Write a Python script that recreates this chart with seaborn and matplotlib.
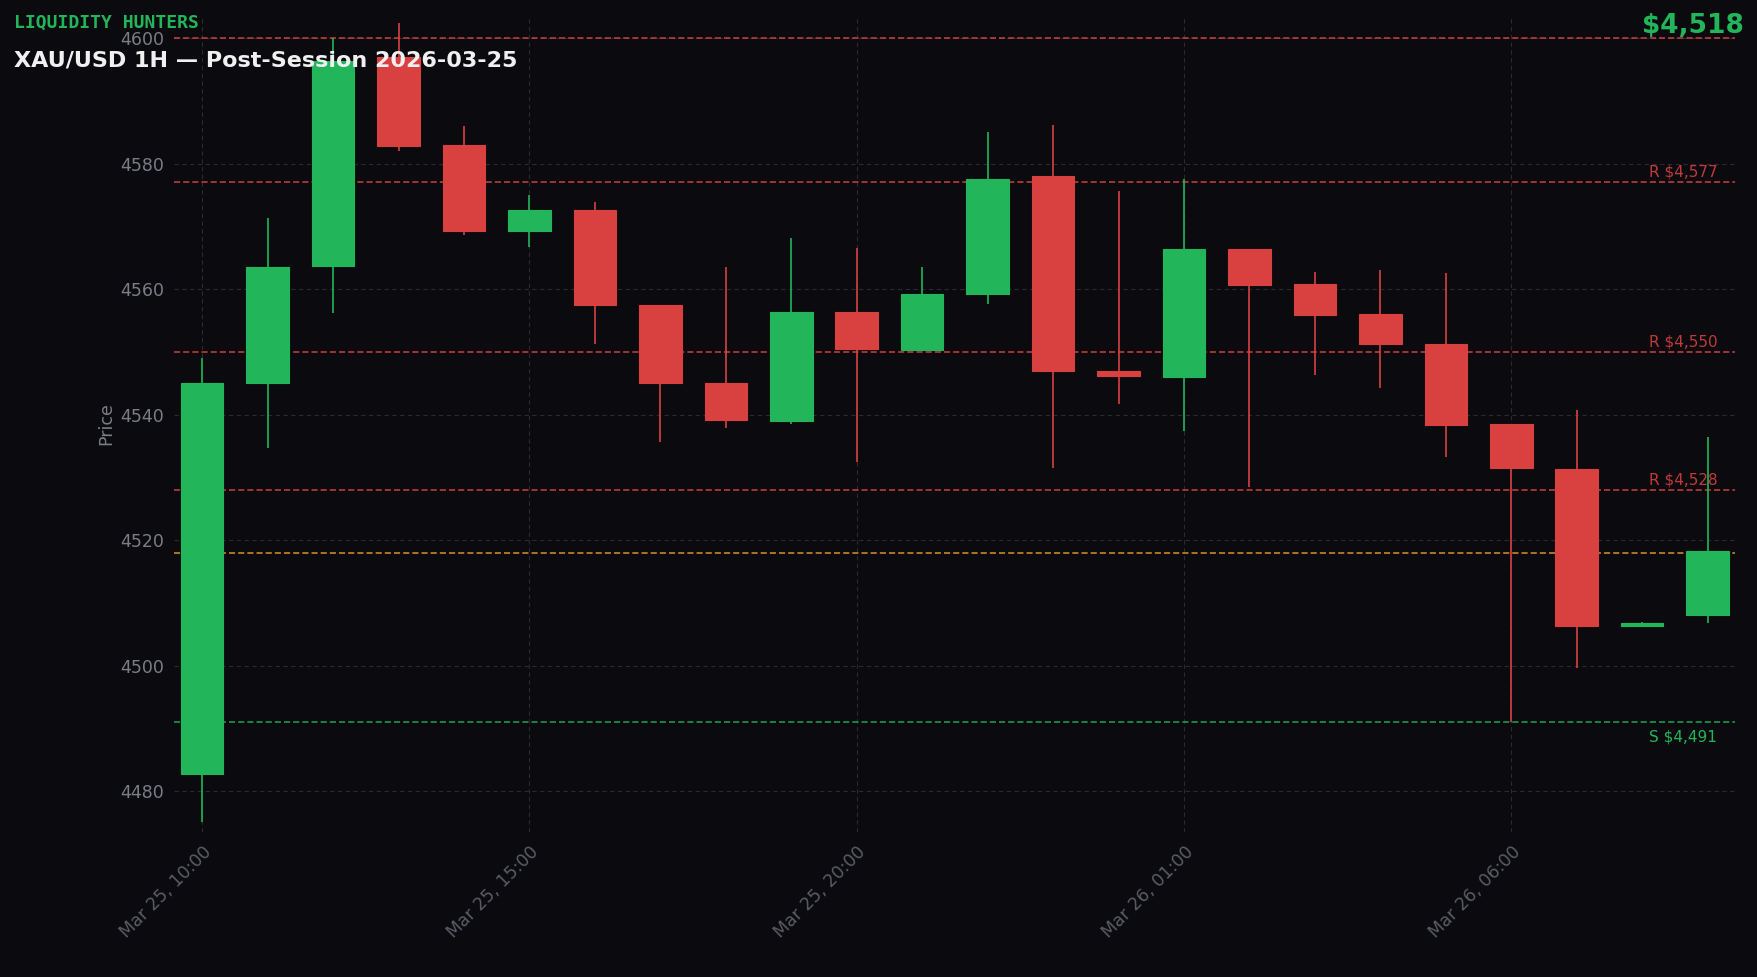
import numpy as np
import pandas as pd
import matplotlib
matplotlib.use("Agg")
import matplotlib.pyplot as plt
import seaborn as sns

hours = ["Mar 25, 10:00", "Mar 25, 11:00", "Mar 25, 12:00", "Mar 25, 13:00", "Mar 25, 14:00",
         "Mar 25, 15:00", "Mar 25, 16:00", "Mar 25, 17:00", "Mar 25, 18:00", "Mar 25, 19:00",
         "Mar 25, 20:00", "Mar 25, 21:00", "Mar 25, 22:00", "Mar 25, 23:00", "Mar 26, 00:00",
         "Mar 26, 01:00", "Mar 26, 02:00", "Mar 26, 03:00", "Mar 26, 04:00", "Mar 26, 05:00",
         "Mar 26, 06:00", "Mar 26, 07:00", "Mar 26, 08:00", "Mar 26, 09:00"]
opens = [4482.7, 4545.0, 4563.7, 4597.0, 4583.0, 4569.2, 4572.6, 4557.4, 4545.0, 4539.0,
         4556.4, 4550.3, 4559.2, 4578.0, 4546.9, 4546.0, 4566.4, 4560.8, 4556.0, 4551.2,
         4538.5, 4531.3, 4506.3, 4508.0]
highs = [4549.0, 4571.3, 4600.0, 4602.5, 4586.0, 4575.0, 4573.9, 4557.4, 4563.5, 4568.2,
         4566.5, 4563.5, 4585.0, 4586.2, 4575.7, 4577.5, 4566.4, 4562.8, 4563.1, 4562.6,
         4538.5, 4540.8, 4507.0, 4536.5]
lows = [4475.0, 4534.7, 4556.2, 4582.0, 4568.7, 4566.7, 4551.2, 4535.6, 4537.8, 4538.5,
        4532.4, 4550.3, 4557.6, 4531.5, 4541.7, 4537.4, 4528.5, 4546.3, 4544.3, 4533.3,
        4491.0, 4499.6, 4506.3, 4506.8]
closes = [4545.0, 4563.6, 4596.4, 4582.8, 4569.2, 4572.6, 4557.4, 4545.0, 4539.1, 4556.4,
          4550.5, 4559.2, 4577.5, 4547.0, 4546.2, 4566.4, 4560.7, 4555.8, 4551.2, 4538.3,
          4531.5, 4506.3, 4506.8, 4518.2]

level_values = [4600, 4577, 4550, 4528, 4518, 4491]
level_labels = [None, "R $4,577", "R $4,550", "R $4,528", None, "S $4,491"]
level_kinds = ["r", "r", "r", "r", "cur", "s"]

tick_pos = [0, 5, 10, 15, 20]

BG = "#0b0b0f"
GREEN = "#22b55a"
RED = "#d94040"

sns.set_style("dark", {"axes.facecolor": BG, "figure.facecolor": BG})

df = pd.DataFrame({"t": hours, "open": opens, "high": highs, "low": lows, "close": closes})
df["x"] = np.arange(len(df))
df["up"] = df["close"] >= df["open"]
df["color"] = np.where(df["up"], GREEN, RED)

fig = plt.figure(figsize=(17.58, 9.77), dpi=100)
fig.patch.set_facecolor(BG)
ax = fig.add_axes([0.099, 0.148, 0.888, 0.836])
ax.set_facecolor(BG)

# wicks
ax.vlines(df["x"], df["low"], df["high"], colors=df["color"], linewidth=1.2, zorder=2)
# bodies
bottom = np.minimum(df["open"], df["close"])
height = np.maximum(np.abs(df["close"] - df["open"]), 0.4)
ax.bar(df["x"], height, bottom=bottom, width=0.65, color=df["color"],
       edgecolor=df["color"], linewidth=0.8, zorder=3)

for val, lab, kind in zip(level_values, level_labels, level_kinds):
    c = {"r": "#e04545", "cur": "#f0a020", "s": "#22b55a"}[kind]
    ax.axhline(val, color=c, linestyle=(0, (4, 2)), linewidth=1.1, zorder=1, alpha=0.9)
    if lab:
        tc = "#c0393b" if kind == "r" else "#22b55a"
        ax.text(22.1, val + 0.4 if kind == "r" else val - 1.2, lab, color=tc,
                fontsize=11, va="bottom" if kind == "r" else "top")

ax.set_xlim(-0.43, 23.42)
ax.set_ylim(4473.4, 4603.6)
ax.set_xticks(tick_pos)
ax.set_xticklabels([hours[i] for i in tick_pos], rotation=45, ha="right",
                   rotation_mode="anchor", color="#7a7d85", fontsize=12.5)
ax.set_yticks(range(4480, 4601, 20))
ax.tick_params(axis="y", colors="#7a7d85", labelsize=12.5, left=False)
ax.tick_params(axis="x", colors="#5a5d65", length=4)
ax.set_ylabel("Price", color="#7a7d85", fontsize=12.5)
ax.grid(True, color="#2a2b30", linestyle=(0, (4, 3)), linewidth=0.8)
for s in ax.spines.values():
    s.set_visible(False)

fig.text(0.008, 0.986, "LIQUIDITY HUNTERS", color=GREEN, fontsize=13, fontweight="bold",
         family="DejaVu Sans Mono", va="top")
fig.text(0.008, 0.948, "XAU/USD 1H — Post-Session 2026-03-25", color="#f0f0f0",
         fontsize=16, fontweight="bold", va="top")
fig.text(0.992, 0.987, "$4,518", color=GREEN, fontsize=19, fontweight="bold",
         ha="right", va="top")

fig.savefig("out.png", dpi=100, facecolor=BG)
